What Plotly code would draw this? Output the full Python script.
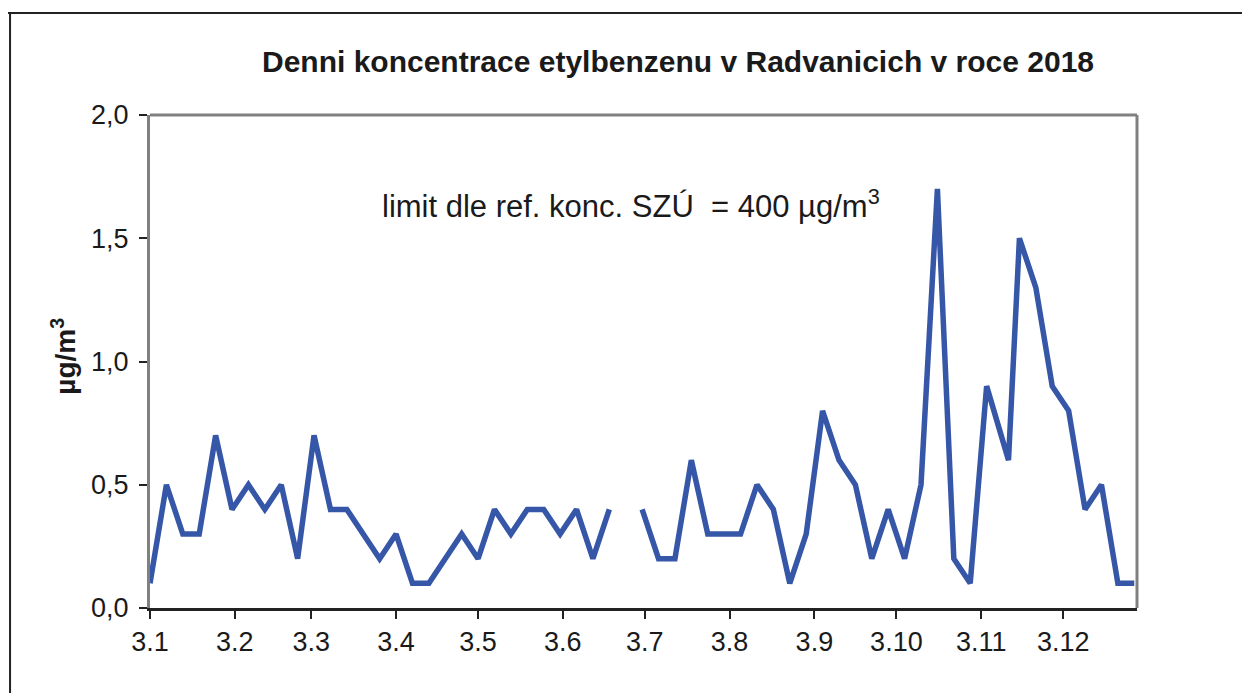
import plotly.graph_objects as go

# sampling dates (every 6th day) and daily concentrations of ethylbenzene (µg/m3)
dates = [
    "2018-01-03", "2018-01-09", "2018-01-15", "2018-01-21", "2018-01-27",
    "2018-02-02", "2018-02-08", "2018-02-14", "2018-02-20", "2018-02-26",
    "2018-03-04", "2018-03-10", "2018-03-16", "2018-03-22", "2018-03-28",
    "2018-04-03", "2018-04-09", "2018-04-15", "2018-04-21", "2018-04-27",
    "2018-05-03", "2018-05-09", "2018-05-15", "2018-05-21", "2018-05-27",
    "2018-06-02", "2018-06-08", "2018-06-14", "2018-06-20", "2018-06-26",
    "2018-07-02", "2018-07-08", "2018-07-14", "2018-07-20", "2018-07-26",
    "2018-08-01", "2018-08-07", "2018-08-13", "2018-08-19", "2018-08-25",
    "2018-08-31", "2018-09-06", "2018-09-12", "2018-09-18", "2018-09-24",
    "2018-09-30", "2018-10-06", "2018-10-12", "2018-10-18", "2018-10-24",
    "2018-10-30", "2018-11-05", "2018-11-13", "2018-11-17", "2018-11-23",
    "2018-11-29", "2018-12-05", "2018-12-11", "2018-12-17", "2018-12-23",
    "2018-12-29",
]
values = [
    0.1, 0.5, 0.3, 0.3, 0.7,
    0.4, 0.5, 0.4, 0.5, 0.2,
    0.7, 0.4, 0.4, 0.3, 0.2,
    0.3, 0.1, 0.1, 0.2, 0.3,
    0.2, 0.4, 0.3, 0.4, 0.4,
    0.3, 0.4, 0.2, 0.4, None,
    0.4, 0.2, 0.2, 0.6, 0.3,
    0.3, 0.3, 0.5, 0.4, 0.1,
    0.3, 0.8, 0.6, 0.5, 0.2,
    0.4, 0.2, 0.5, 1.7, 0.2,
    0.1, 0.9, 0.6, 1.5, 1.3,
    0.9, 0.8, 0.4, 0.5, 0.1,
    0.1,
]

x_tick_vals = ["2018-01-03", "2018-02-03", "2018-03-03", "2018-04-03", "2018-05-03",
               "2018-06-03", "2018-07-03", "2018-08-03", "2018-09-03", "2018-10-03",
               "2018-11-03", "2018-12-03"]
x_tick_text = ["3.1", "3.2", "3.3", "3.4", "3.5", "3.6", "3.7", "3.8", "3.9",
               "3.10", "3.11", "3.12"]
y_tick_vals = [0.0, 0.5, 1.0, 1.5, 2.0]
y_tick_text = ["0,0", "0,5", "1,0", "1,5", "2,0"]

title_text = "Denni koncentrace etylbenzenu v Radvanicich v roce 2018"
limit_text = "limit dle ref. konc. SZÚ  = 400 µg/m<sup>3</sup>"
y_title = "µg/m<sup>3</sup>"

FONT = "Liberation Sans, Arial, sans-serif"

fig = go.Figure()
fig.add_trace(go.Scatter(
    x=dates, y=values, mode="lines",
    line=dict(color="#3656a8", width=5.5),
    connectgaps=False, showlegend=False,
))

fig.update_layout(
    width=1242, height=685,
    margin=dict(l=142, r=113, t=107, b=85),
    paper_bgcolor="white", plot_bgcolor="white",
    font=dict(family=FONT, color="#1a1a1a"),
    xaxis=dict(
        type="date", range=["2018-01-03", "2018-12-30"],
        tickmode="array", tickvals=x_tick_vals, ticktext=x_tick_text,
        ticks="outside", ticklen=8, tickwidth=2, tickcolor="#222",
        showline=True, linecolor="#222", linewidth=3,
        showgrid=False, zeroline=False,
        tickfont=dict(size=27, family=FONT, color="#1a1a1a"),
    ),
    yaxis=dict(
        range=[0, 2.0],
        tickmode="array", tickvals=y_tick_vals, ticktext=y_tick_text,
        ticks="outside", ticklen=8, tickwidth=2, tickcolor="#222",
        showline=True, linecolor="#808080", linewidth=3,
        showgrid=False, zeroline=False,
        tickfont=dict(size=27, family=FONT, color="#1a1a1a"),
        ticklabelstandoff=5,
    ),
    shapes=[
        # top and right border of plot area
        dict(type="line", xref="paper", yref="paper", x0=0, x1=1, y0=1, y1=1,
             line=dict(color="#808080", width=3)),
        dict(type="line", xref="paper", yref="paper", x0=1, x1=1, y0=0, y1=1,
             line=dict(color="#808080", width=3)),
        # outer frame
        dict(type="line", xref="paper", yref="paper", x0=-0.1418, x1=-0.1418,
             y0=-0.2, y1=1.2069, line=dict(color="#222", width=2)),
        dict(type="line", xref="paper", yref="paper", x0=-0.16, x1=1.2,
             y0=1.2069, y1=1.2069, line=dict(color="#222", width=2)),
    ],
    annotations=[
        dict(text="<b>" + title_text + "</b>", xref="paper", yref="paper",
             x=0.535, y=1.1095, xanchor="center", yanchor="middle",
             showarrow=False, font=dict(size=30, family=FONT, color="#1a1a1a")),
        dict(text=limit_text, xref="paper", yref="paper",
             x=0.233, y=0.82, xanchor="left", yanchor="middle",
             showarrow=False, font=dict(size=31, family=FONT, color="#1a1a1a")),
        dict(text="<b>" + y_title + "</b>", xref="paper", yref="paper",
             x=-0.088, y=0.51, xanchor="center", yanchor="middle", textangle=-90,
             showarrow=False, font=dict(size=28, family=FONT, color="#1a1a1a")),
    ],
)

fig.write_html("out.html")
